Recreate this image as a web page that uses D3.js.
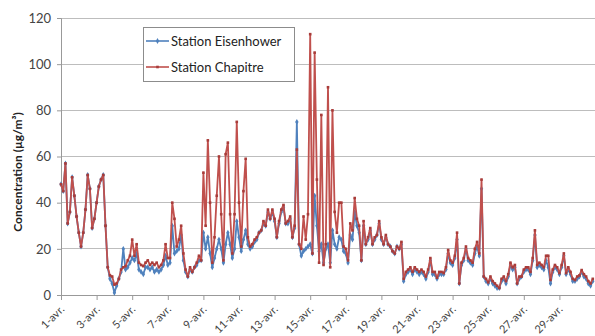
<!DOCTYPE html>
<html><head><meta charset="utf-8">
<script src="https://cdn.jsdelivr.net/npm/d3@7"></script>
<style>body{margin:0;background:#fff}svg{display:block}</style>
</head><body>
<svg id="c" width="595" height="336"></svg>
<script>
// 3-hourly values, 1 April 00h to 30 April 21h
const stepHours = 3;
const eisenhower = [
48,45,57,31,36,51,43,34, 27,21,27,37,52,46,29,33, 40,47,50,52,30,12,7,5,
1,4,7,10,20,11,12,14, 16,15,18,11,10,9,12,12, 11,12,10,11,10,11,13,17,
13,14,30,18,19,20,26,15, 10,8,11,10,12,13,15,15, 27,20,25,18,12,16,20,24,
20,14,22,27,22,16,20,32, 25,19,24,28,22,20,21,23, 24,27,28,31,30,36,33,36,
32,25,31,36,38,31,31,33, 25,29,75,22,17,19,20,21, 22,18,43,30,19,22,14,20,
22,14,28,22,20,25,24,19, 18,14,26,24,36,30,27,15, 30,22,24,28,22,24,26,31,
24,22,25,22,21,19,18,21, 20,22,6,9,10,11,9,11, 10,9,10,9,7,10,15,9,
9,7,9,9,9,11,18,14, 13,16,24,5,13,15,20,15, 14,13,18,21,17,46,8,6,
5,7,5,4,3,3,6,7, 5,8,13,11,12,5,7,8, 10,11,11,9,15,26,12,13,
12,11,15,12,5,10,12,11, 9,12,17,9,11,9,6,6, 7,8,10,8,7,5,4,6
];
const chapitre = [
48,45,57,31,36,51,43,34, 27,21,27,37,52,46,29,33, 40,47,50,52,30,12,8.5,8,
4.5,5,7,11,12,12.5,15,17, 24,17,22,14,13,12.5,14,15, 13,14,13,14,12,13,15,22,
16,16,40,33,21,24,30,18, 11,8,12,10,12,14,17,15, 53,30,67,40,14,25,43,60,
35,15,61,66,35,18,35,75, 40,21,45,59,25,21,22,24, 25,27,28,32,30,37,33,37,
33,25,32,37,39,31,32,34, 25,30,63,22,20,34,24,35, 113,18,105,50,14,78,13,22,
90,12,80,36,27,40,40,21, 20,15,31,28,42,33,30,15, 32,22,25,29,22,25,26,32,
25,22,26,22,21,19,18,21, 20,23,7,10,11,12,10,12, 11,10,11,10,8,11,16,10,
10,7.5,10,10,9.5,12,19.5,15, 14,17,27,5,14,16,21,16, 15,14,20,23,18,50,8,7,
5.5,8,6,5,4,3,7,8, 6,9,14,12,13,5,8,8, 11,12,12,10,16,28,13,14,
13,12,17,17,6.5,11,13,12, 9.5,13,18,9.5,12,10,7,6.5, 8,8.5,10.8,9,8,6,5,7
];
const seriesNames = ["Station Eisenhower", "Station Chapitre"];
const xTickLabels = ["1-avr.","3-avr.","5-avr.","7-avr.","9-avr.","11-avr.","13-avr.","15-avr.","17-avr.","19-avr.","21-avr.","23-avr.","25-avr.","27-avr.","29-avr."];
const yTicks = [0,20,40,60,80,100,120];
const totalHours = 720;

const svg = d3.select("#c");
const L = 61, R = 595, T = 18, B = 295;
const x = d3.scaleLinear().domain([0, totalHours]).range([L, R]);
const y = d3.scaleLinear().domain([0, 120]).range([B, T]);
const font = "Lato, 'Open Sans', sans-serif";

// gridlines
svg.append("g").selectAll("line").data(yTicks.filter(v => v > 0)).join("line")
  .attr("x1", L).attr("x2", R).attr("y1", d => y(d)).attr("y2", d => y(d))
  .attr("stroke", "#bdbdbd").attr("stroke-width", 1).attr("shape-rendering", "crispEdges");

// y axis
const yAxis = svg.append("g").attr("transform", `translate(${L},0)`)
  .call(d3.axisLeft(y).tickValues(yTicks).tickSize(4).tickPadding(6));
yAxis.select(".domain").attr("stroke", "#999");
yAxis.selectAll(".tick line").attr("stroke", "#999");
yAxis.selectAll("text").attr("font-family", font).attr("font-size", 13).attr("fill", "#444");

// x axis
const xTickVals = d3.range(0, totalHours + 1, 48);
const xAxis = svg.append("g").attr("transform", `translate(0,${B})`)
  .call(d3.axisBottom(x).tickValues(xTickVals).tickSize(5).tickFormat(""));
xAxis.select(".domain").attr("stroke", "#999");
xAxis.selectAll(".tick line").attr("stroke", "#999");
svg.append("g").selectAll("text").data(xTickLabels).join("text")
  .attr("transform", (d, i) => `translate(${x(i * 48) + 4},${B + 15}) rotate(-45)`)
  .attr("text-anchor", "end").attr("font-family", font).attr("font-size", 11).attr("fill", "#444")
  .text(d => d);

// y title
svg.append("text")
  .attr("transform", `translate(22,172) rotate(-90)`)
  .attr("text-anchor", "middle").attr("font-family", font).attr("font-size", 12)
  .attr("font-weight", "bold").attr("fill", "#222")
  .text("Concentration (µg/m³)");

const colors = ["#4f81bd", "#c0504d"];
const datasets = [eisenhower, chapitre];
const line = d3.line().x((d, i) => x(i * stepHours)).y(d => y(d));

datasets.forEach((data, k) => {
  const g = svg.append("g");
  g.append("path").datum(data).attr("d", line).attr("fill", "none")
    .attr("stroke", colors[k]).attr("stroke-width", 1.8).attr("stroke-linejoin", "round");
  if (k === 0) {
    g.selectAll("path.m").data(data).join("path").attr("class", "m")
      .attr("d", d3.symbol(d3.symbolDiamond, 10))
      .attr("transform", (d, i) => `translate(${x(i * stepHours)},${y(d)})`)
      .attr("fill", colors[k]);
  } else {
    g.selectAll("rect").data(data).join("rect")
      .attr("x", (d, i) => x(i * stepHours) - 1.3).attr("y", d => y(d) - 1.3)
      .attr("width", 2.6).attr("height", 2.6).attr("fill", "#a83c3a");
  }
});

// legend
const lg = svg.append("g");
lg.append("rect").attr("x", 143.5).attr("y", 27.5).attr("width", 151).attr("height", 54)
  .attr("fill", "#fff").attr("stroke", "#8c8c8c");
seriesNames.forEach((n, k) => {
  const ly = 41 + k * 26;
  lg.append("line").attr("x1", 146).attr("x2", 169).attr("y1", ly).attr("y2", ly)
    .attr("stroke", colors[k]).attr("stroke-width", 1.6);
  if (k === 0) lg.append("path").attr("d", d3.symbol(d3.symbolDiamond, 10)).attr("transform", `translate(157.5,${ly})`).attr("fill", colors[k]);
  else lg.append("rect").attr("x", 156.2).attr("y", ly - 1.3).attr("width", 2.6).attr("height", 2.6).attr("fill", "#a83c3a");
  lg.append("text").attr("x", 171).attr("y", ly + 4.5).attr("font-family", font).attr("font-size", 13)
    .attr("fill", "#222").text(n);
});
</script>
</body></html>
